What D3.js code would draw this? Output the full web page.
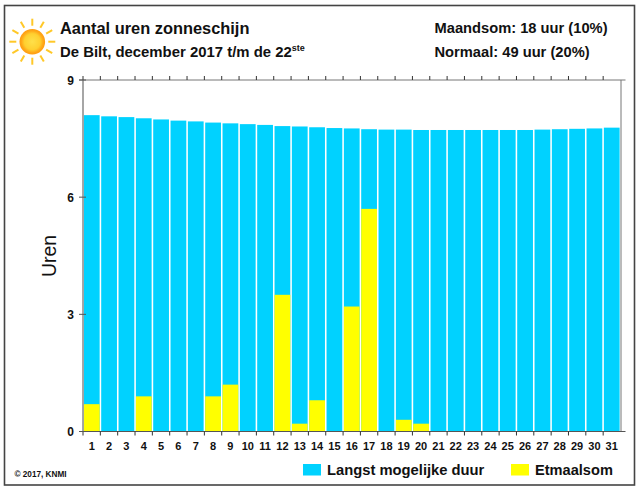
<!DOCTYPE html>
<html><head><meta charset="utf-8">
<script src="https://cdn.jsdelivr.net/npm/d3@7"></script>
<style>html,body{margin:0;padding:0;background:#fff}svg{display:block}text{font-family:"Liberation Sans",Arial,sans-serif;fill:#111}</style>
</head><body><svg id="c" width="640" height="491"></svg>
<script>
const days = d3.range(1, 32);
const maxDuration = [8.1,8.07,8.05,8.02,7.99,7.96,7.94,7.91,7.89,7.87,7.85,7.82,7.81,7.79,7.77,7.76,7.74,7.73,7.73,7.72,7.72,7.72,7.72,7.72,7.72,7.72,7.73,7.74,7.75,7.76,7.78];
const sunshine = [0.7,0,0,0.9,0,0,0,0.9,1.2,0,0,3.5,0.2,0.8,0,3.2,5.7,0,0.3,0.2,0,0,0,0,0,0,0,0,0,0,0];
const yTicks = [0,3,6,9];
const legendLabels = ["Langst mogelijke duur","Etmaalsom"];
const colors = {max:"#00d2ff",sun:"#ffff00",axis:"#555"};

const svg = d3.select("#c");
const L=83,R=620.5,T=80,B=431.5;
svg.append("rect").attr("x",4.5).attr("y",5.5).attr("width",630).attr("height",479.5).attr("fill","#fff").attr("stroke","#444").attr("stroke-width",1.6);

const x = d3.scaleBand().domain(days).range([L,R]).paddingInner(0.09).paddingOuter(0.05);
const y = d3.scaleLinear().domain([0,9]).range([B,T]);

svg.append("g").selectAll("rect").data(days).join("rect")
  .attr("x",d=>x(d)).attr("width",x.bandwidth())
  .attr("y",(d,i)=>y(maxDuration[i])).attr("height",(d,i)=>B-y(maxDuration[i])).attr("fill",colors.max);
svg.append("g").selectAll("rect").data(days).join("rect")
  .attr("x",d=>x(d)).attr("width",x.bandwidth())
  .attr("y",(d,i)=>y(sunshine[i])).attr("height",(d,i)=>B-y(sunshine[i])).attr("fill",colors.sun);

const step=(R-L)/31;
const edges=d3.range(0,32).map(i=>L+i*step);
const ax=svg.append("g").attr("stroke",colors.axis).attr("stroke-width",1).attr("fill","none");
ax.append("line").attr("x1",L).attr("x2",L).attr("y1",T).attr("y2",B).attr("stroke","#888").attr("stroke-width",1.5);
ax.append("line").attr("x1",R+0.5).attr("x2",R+0.5).attr("y1",T).attr("y2",B).attr("stroke","#777");
ax.append("line").attr("x1",L-4).attr("x2",R+5).attr("y1",T).attr("y2",T).attr("stroke","#777");
ax.append("line").attr("x1",L-4).attr("x2",R+5).attr("y1",B).attr("y2",B);
ax.selectAll(".t").data(edges.slice(0,31)).join("line").attr("x1",d=>d).attr("x2",d=>d).attr("y1",T-4).attr("y2",T).attr("stroke","#333");
ax.selectAll(".b").data(edges.slice(0,31)).join("line").attr("x1",d=>d).attr("x2",d=>d).attr("y1",B).attr("y2",B+4).attr("stroke","#333");
ax.selectAll(".y").data(yTicks).join("line").attr("x1",L-4).attr("x2",L+3).attr("y1",d=>y(d)).attr("y2",d=>y(d));

svg.append("g").selectAll("text").data(yTicks).join("text").attr("x",L-9).attr("y",d=>y(d)+4.5).attr("text-anchor","end")
  .attr("font-size",12).attr("font-weight",700).text(d=>d);
svg.append("g").selectAll("text").data(days).join("text").attr("x",d=>x(d)+x.bandwidth()/2).attr("y",450).attr("text-anchor","middle")
  .attr("font-size",11).attr("font-weight",700).text(d=>d);
svg.append("text").attr("transform","translate(56,256) rotate(-90)").attr("text-anchor","middle").attr("font-size",19.4).text("Uren");

svg.append("text").attr("x",60).attr("y",34).attr("font-size",16.4).attr("font-weight",700).text("Aantal uren zonneschijn");
const st=svg.append("text").attr("x",60).attr("y",57).attr("font-size",14.9).attr("font-weight",700);
st.append("tspan").text("De Bilt, december 2017 t/m de 22");
st.append("tspan").attr("font-size",9).attr("dy",-6).text("ste");
svg.append("text").attr("x",434.5).attr("y",33).attr("font-size",14.7).attr("font-weight",700).text("Maandsom: 18 uur (10%)");
svg.append("text").attr("x",434.5).attr("y",57).attr("font-size",14.7).attr("font-weight",700).text("Normaal: 49 uur (20%)");
svg.append("text").attr("x",14.5).attr("y",476.5).attr("font-size",8.2).attr("font-weight",700).text("© 2017, KNMI");

svg.append("rect").attr("x",303).attr("y",464).attr("width",18).attr("height",11.5).attr("fill",colors.max);
svg.append("text").attr("x",327).attr("y",474.5).attr("font-size",14.75).attr("font-weight",700).text(legendLabels[0]);
svg.append("rect").attr("x",511).attr("y",464).attr("width",18).attr("height",11.5).attr("fill",colors.sun);
svg.append("text").attr("x",535).attr("y",474.5).attr("font-size",14.6).attr("font-weight",700).text(legendLabels[1]);

// sun icon
const defs=svg.append("defs");
const g=defs.append("radialGradient").attr("id","sun");
g.append("stop").attr("offset","0%").attr("stop-color","#ffe04a");
g.append("stop").attr("offset","62%").attr("stop-color","#ffd030");
g.append("stop").attr("offset","85%").attr("stop-color","#ffa818");
g.append("stop").attr("offset","100%").attr("stop-color","#ff9c10");
const sun=svg.append("g").attr("transform","translate(32.3,41.7)");
sun.selectAll("line").data(d3.range(12)).join("line")
  .attr("x1",d=>16*Math.sin(d*Math.PI/6)).attr("y1",d=>-16*Math.cos(d*Math.PI/6))
  .attr("x2",d=>23*Math.sin(d*Math.PI/6)).attr("y2",d=>-23*Math.cos(d*Math.PI/6))
  .attr("stroke","#ffc828").attr("stroke-width",2);
sun.append("circle").attr("r",12.8).attr("fill","url(#sun)");
</script></body></html>
